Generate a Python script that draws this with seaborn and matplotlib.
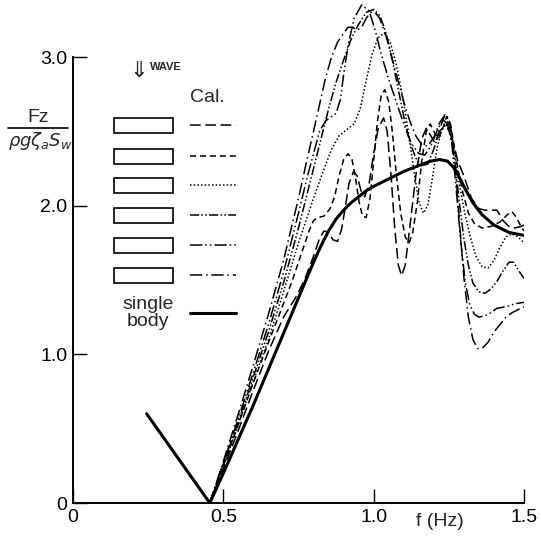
import numpy as np
import matplotlib
matplotlib.use("Agg")
import matplotlib.pyplot as plt
import matplotlib.patches as patches
import seaborn as sns

# frequency (Hz) and non-dimensional heave force

f_sb = [0.245, 0.455, 0.5, 0.55, 0.6, 0.65, 0.7, 0.75, 0.775, 0.8, 0.825, 0.85, 0.875,
        0.9, 0.925, 0.95, 0.975, 1.0, 1.05, 1.1, 1.15, 1.19, 1.22, 1.245, 1.265,
        1.285, 1.305, 1.33, 1.36, 1.4, 1.45, 1.5]
y_sb = [0.6, 0.0, 0.2, 0.43, 0.66, 0.9, 1.14, 1.38, 1.5, 1.62, 1.73, 1.83, 1.91,
        1.97, 2.02, 2.06, 2.1, 2.13, 2.18, 2.23, 2.27, 2.3, 2.31, 2.3, 2.26,
        2.19, 2.11, 2.02, 1.94, 1.87, 1.82, 1.80]

# Cal. 1 - long dash
f_c1 = [0.455, 0.5, 0.55, 0.6, 0.65, 0.7, 0.74, 0.77, 0.8, 0.82, 0.835, 0.85, 0.865,
        0.88, 0.893, 0.905, 0.918, 0.933, 0.945, 0.958, 0.97, 0.985, 1.0, 1.015, 1.033,
        1.045, 1.058, 1.07, 1.082, 1.093, 1.105, 1.12, 1.14, 1.16, 1.175, 1.19, 1.205,
        1.22, 1.235, 1.25, 1.265, 1.28, 1.3, 1.325, 1.35, 1.37, 1.39, 1.41, 1.43,
        1.45, 1.47, 1.49, 1.5]
y_c1 = [0.0, 0.23, 0.49, 0.76, 1.02, 1.25, 1.38, 1.5, 1.66, 1.78, 1.83, 1.82, 1.77,
        1.76, 1.84, 1.98, 2.15, 2.23, 2.2, 2.1, 2.06, 2.15, 2.35, 2.52, 2.59,
        2.5, 2.2, 1.85, 1.6, 1.53, 1.6, 1.85, 2.2, 2.45, 2.52, 2.47, 2.42,
        2.52, 2.6, 2.55, 2.42, 2.3, 2.2, 2.05, 1.98, 1.97, 1.97, 1.97, 1.9,
        1.86, 1.85, 1.86, 1.87]

# Cal. 2 - medium dash
f_c2 = [0.455, 0.5, 0.55, 0.6, 0.65, 0.7, 0.73, 0.76, 0.785, 0.8, 0.815, 0.835, 0.855,
        0.87, 0.885, 0.9, 0.915, 0.928, 0.94, 0.952, 0.963, 0.975, 0.988, 1.0, 1.012,
        1.025, 1.037, 1.05, 1.062, 1.075, 1.09, 1.105, 1.118, 1.13, 1.145, 1.16, 1.175,
        1.188, 1.2, 1.215, 1.23, 1.243, 1.255, 1.268, 1.28, 1.295, 1.315, 1.335, 1.36,
        1.39, 1.42, 1.445, 1.46, 1.475, 1.49, 1.5]
y_c2 = [0.0, 0.25, 0.53, 0.81, 1.08, 1.34, 1.5, 1.68, 1.83, 1.9, 1.92, 1.93, 1.98,
        2.06, 2.2, 2.31, 2.35, 2.31, 2.18, 2.02, 1.93, 1.92, 2.05, 2.3, 2.56,
        2.74, 2.78, 2.7, 2.5, 2.22, 1.95, 1.79, 1.75, 1.82, 2.02, 2.3, 2.5,
        2.55, 2.5, 2.45, 2.52, 2.6, 2.55, 2.4, 2.25, 2.1, 1.95, 1.88, 1.85,
        1.86, 1.89, 1.94, 1.96, 1.92, 1.86, 1.83]

# Cal. 3 - dotted
f_c3 = [0.455, 0.5, 0.55, 0.6, 0.65, 0.7, 0.75, 0.8, 0.83, 0.86, 0.885, 0.91, 0.935,
        0.955, 0.975, 0.995, 1.015, 1.035, 1.055, 1.075, 1.095, 1.115, 1.135, 1.15, 1.165,
        1.18, 1.195, 1.21, 1.225, 1.24, 1.255, 1.27, 1.285, 1.3, 1.32, 1.34, 1.36,
        1.38, 1.4, 1.42, 1.44, 1.46, 1.48, 1.5]
y_c3 = [0.0, 0.25, 0.53, 0.82, 1.1, 1.42, 1.75, 2.05, 2.22, 2.38, 2.47, 2.51, 2.55,
        2.65, 2.84, 3.02, 3.13, 3.16, 3.1, 2.95, 2.75, 2.5, 2.22, 2.03, 1.95,
        2.0, 2.18, 2.38, 2.5, 2.55, 2.5, 2.35, 2.15, 1.98, 1.8, 1.66, 1.59,
        1.58, 1.63, 1.72, 1.79, 1.81, 1.79, 1.75]

# Cal. 4 - dash dot dot
f_c4 = [0.455, 0.5, 0.55, 0.6, 0.65, 0.7, 0.75, 0.8, 0.85, 0.875, 0.9, 0.925, 0.95,
        0.975, 1.0, 1.02, 1.04, 1.06, 1.08, 1.1, 1.12, 1.14, 1.16, 1.18, 1.2,
        1.22, 1.24, 1.255, 1.27, 1.285, 1.3, 1.315, 1.33, 1.35, 1.37, 1.39, 1.41,
        1.43, 1.45, 1.465, 1.48, 1.5]
y_c4 = [0.0, 0.26, 0.55, 0.85, 1.15, 1.48, 1.85, 2.25, 2.65, 2.83, 2.98, 3.12, 3.22,
        3.3, 3.32, 3.28, 3.17, 3.0, 2.8, 2.6, 2.43, 2.32, 2.27, 2.28, 2.38,
        2.5, 2.55, 2.48, 2.3, 2.02, 1.78, 1.6, 1.48, 1.42, 1.41, 1.44, 1.49,
        1.56, 1.62, 1.62, 1.57, 1.51]

# Cal. 5 - long dash dot dot
f_c5 = [0.455, 0.5, 0.55, 0.6, 0.65, 0.7, 0.75, 0.78, 0.8, 0.82, 0.84, 0.86, 0.875,
        0.89, 0.9, 0.915, 0.935, 0.96, 0.985, 1.005, 1.025, 1.05, 1.075, 1.1, 1.125,
        1.15, 1.17, 1.19, 1.21, 1.23, 1.245, 1.26, 1.275, 1.29, 1.305, 1.32, 1.335,
        1.35, 1.37, 1.39, 1.41, 1.44, 1.47, 1.5]
y_c5 = [0.0, 0.27, 0.57, 0.88, 1.2, 1.55, 1.95, 2.2, 2.35, 2.5, 2.57, 2.6, 2.62,
        2.72, 2.88, 3.08, 3.26, 3.35, 3.31, 3.18, 3.02, 2.85, 2.7, 2.55, 2.42,
        2.35, 2.34, 2.4, 2.5, 2.58, 2.55, 2.42, 2.1, 1.75, 1.48, 1.33, 1.27,
        1.25, 1.26, 1.28, 1.31, 1.32, 1.34, 1.35]

# Cal. 6 - dash dot
f_c6 = [0.455, 0.5, 0.55, 0.6, 0.65, 0.7, 0.75, 0.775, 0.8, 0.82, 0.84, 0.86, 0.88,
        0.9, 0.915, 0.93, 0.945, 0.96, 0.975, 0.99, 1.005, 1.02, 1.04, 1.06, 1.08,
        1.1, 1.12, 1.14, 1.16, 1.18, 1.2, 1.22, 1.24, 1.255, 1.27, 1.285, 1.3,
        1.315, 1.33, 1.345, 1.36, 1.38, 1.4, 1.42, 1.44, 1.46, 1.48, 1.5]
y_c6 = [0.0, 0.28, 0.6, 0.93, 1.27, 1.63, 2.05, 2.28, 2.5, 2.68, 2.86, 3.0, 3.1,
        3.16, 3.2, 3.2, 3.18, 3.2, 3.26, 3.3, 3.3, 3.26, 3.15, 3.0, 2.85,
        2.7, 2.57, 2.47, 2.41, 2.4, 2.46, 2.56, 2.62, 2.55, 2.3, 1.9, 1.52,
        1.25, 1.1, 1.04, 1.04, 1.08, 1.15, 1.2, 1.25, 1.28, 1.3, 1.32]

cal_f = [f_c1, f_c2, f_c3, f_c4, f_c5, f_c6]
cal_y = [y_c1, y_c2, y_c3, y_c4, y_c5, y_c6]
cal_styles = [(0, (7, 3)), (0, (4, 2.5)), (0, (1, 1.4)),
              (0, (6, 1.5, 1, 1.5, 1, 1.5)), (0, (8, 2, 1, 2, 1, 2)), (0, (8, 2.5, 1, 2.5))]

xticks = [0, 0.5, 1.0, 1.5]
xticklabels = ["0", "0.5", "1.0", "1.5"]
yticks = [0, 1.0, 2.0, 3.0]
yticklabels = ["0", "1.0", "2.0", "3.0"]

sns.set_style("white")
plt.rcParams["font.family"] = ["Liberation Sans", "DejaVu Sans"]
plt.rcParams["mathtext.fontset"] = "dejavusans"

W, H = 541, 542
fig = plt.figure(figsize=(W / 100, H / 100), dpi=100)
ax = fig.add_axes([73 / W, 39 / H, 451 / W, 501 / H])

for fx, fy, ls in zip(cal_f, cal_y, cal_styles):
    sns.lineplot(x=fx, y=fy, ax=ax, color="black", lw=1.1, linestyle=ls,
                 sort=False, estimator=None)
sns.lineplot(x=f_sb, y=y_sb, ax=ax, color="black", lw=2.2, sort=False, estimator=None)

ax.set_xlim(0, 1.5)
ax.set_ylim(0, 3.37)
ax.set_xticks(xticks)
ax.set_xticklabels(xticklabels)
ax.set_yticks(yticks)
ax.set_yticklabels(yticklabels)
ax.tick_params(left=True, bottom=True, direction="in", length=10, width=1,
               labelsize=14, pad=4, colors="black")
for s in ["top", "right"]:
    ax.spines[s].set_visible(False)
for s in ["left", "bottom"]:
    ax.spines[s].set_color("black")
    ax.spines[s].set_linewidth(1.4)
ax.spines["left"].set_bounds(0, 3.0)
ax.set_xlabel("")
ax.set_ylabel("")

fig.text(440 / W, 1 - 522 / H, "f (Hz)", fontsize=14, ha="center", va="center")

# y label written as a fraction
fig.text(38 / W, 1 - 118 / H, "Fz", fontsize=14, ha="center", va="center")
fig.add_artist(plt.Line2D([8 / W, 68 / W], [1 - 128 / H, 1 - 128 / H], color="black", lw=1.2))
fig.text(40 / W, 1 - 141 / H, r"$\rho g\zeta_a S_w$", fontsize=13, ha="center", va="center")


def ax_pt(px, py):
    return (px - 73) / 451, (503 - py) / 501


# hand drawn legend
tx, ty = ax_pt(139, 71)
ax.text(tx, ty, "\u21d3", transform=ax.transAxes, fontsize=16, ha="center", va="center",
        family="DejaVu Sans")
tx, ty = ax_pt(150, 67)
ax.text(tx, ty, "WAVE", transform=ax.transAxes, fontsize=8, weight="bold", ha="left", va="center")
tx, ty = ax_pt(190, 98)
ax.text(tx, ty, "Cal.", transform=ax.transAxes, fontsize=14, ha="left", va="center")

row_y = [125, 156, 185, 215, 245, 275]
for py, ls in zip(row_y, cal_styles):
    rx, ry = ax_pt(114, py + 7.5)
    ax.add_patch(patches.Rectangle((rx, ry), 59 / 451, 15 / 501, transform=ax.transAxes,
                                   fill=False, ec="black", lw=1.2))
    x0, yy = ax_pt(190, py)
    x1, _ = ax_pt(236, py)
    ax.plot([x0, x1], [yy, yy], transform=ax.transAxes, color="black", lw=1.1, linestyle=ls)

tx, ty = ax_pt(148, 313)
ax.text(tx, ty, "single\nbody", transform=ax.transAxes, fontsize=14, ha="center", va="center",
        linespacing=1.0)
x0, yy = ax_pt(190, 313)
x1, _ = ax_pt(236, 313)
ax.plot([x0, x1], [yy, yy], transform=ax.transAxes, color="black", lw=2.2)

fig.savefig("out.png", dpi=100)
